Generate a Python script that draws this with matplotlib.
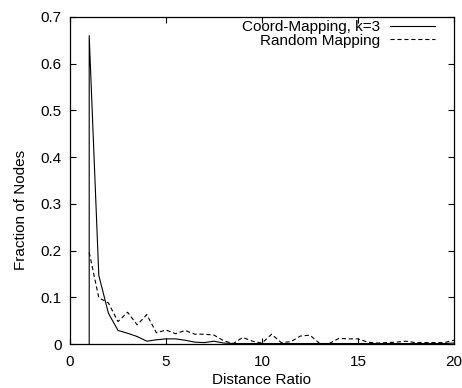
import matplotlib
matplotlib.use("Agg")
import matplotlib.pyplot as plt

plt.rcParams['font.family'] = ['Liberation Sans', 'DejaVu Sans']
plt.rcParams['lines.scale_dashes'] = False

# distance ratio bins (solid series starts with a drop line at x=1)
coord_x = [1, 1, 1.5, 2, 2.5, 3, 3.5, 4, 4.5, 5, 5.5, 6, 6.5, 7, 7.5, 8, 8.5, 9, 9.5,
           10, 10.5, 11, 11.5, 12, 12.5, 13, 13.5, 14, 14.5, 15, 15.5, 16, 16.5, 17,
           17.5, 18, 18.5, 19, 19.5, 20]
coord_y = [0, 0.66, 0.147, 0.066, 0.029, 0.023, 0.016, 0.006, 0.009, 0.011, 0.011, 0.008,
           0.004, 0.003, 0.006, 0.002, 0.001, 0.001, 0.001, 0.001, 0.001, 0.001, 0.001,
           0.001, 0.001, 0.001, 0.001, 0.001, 0.001, 0.001, 0.001, 0.001, 0.001, 0.001,
           0.001, 0.001, 0.001, 0.001, 0.001, 0.002]

rand_x = [1, 1.5, 2, 2.5, 3, 3.5, 4, 4.5, 5, 5.5, 6, 6.5, 7, 7.5, 8, 8.5, 9, 9.5,
          10, 10.5, 11, 11.5, 12, 12.5, 13, 13.5, 14, 14.5, 15, 15.5, 16, 16.5, 17,
          17.5, 18, 18.5, 19, 19.5, 20]
rand_y = [0.196, 0.099, 0.088, 0.048, 0.068, 0.041, 0.063, 0.024, 0.030, 0.022, 0.029,
          0.021, 0.021, 0.019, 0.007, 0.001, 0.014, 0.006, 0.002, 0.021, 0.003, 0.005,
          0.017, 0.019, 0.001, 0.001, 0.012, 0.011, 0.011, 0.004, 0.002, 0.003, 0.004,
          0.006, 0.003, 0.003, 0.003, 0.003, 0.008]

fs = 11

fig = plt.figure(figsize=(4.62, 3.88), dpi=100)
ax = fig.add_axes([70 / 462, 1 - 344 / 388, 384 / 462, 327 / 388])

ax.plot(coord_x, coord_y, color='black', lw=0.8, label='Coord-Mapping, k=3')
ax.plot(rand_x, rand_y, color='black', lw=0.8, dashes=(3, 2), label='Random Mapping')

ax.set_xlim(0, 20)
ax.set_ylim(0, 0.7)
ax.set_xticks([0, 5, 10, 15, 20])
ax.set_xticklabels(['0', '5', '10', '15', '20'])
ax.set_yticks([0, 0.1, 0.2, 0.3, 0.4, 0.5, 0.6, 0.7])
ax.set_yticklabels(['0', '0.1', '0.2', '0.3', '0.4', '0.5', '0.6', '0.7'])
ax.tick_params(direction='in', top=True, right=True, length=4, width=0.8,
               labelsize=fs)
ax.tick_params(axis='y', pad=6)
ax.tick_params(axis='x', pad=8)
for s in ax.spines.values():
    s.set_linewidth(0.9)

ax.set_xlabel('Distance Ratio', fontsize=fs)
ax.set_ylabel('Fraction of Nodes', fontsize=fs)
ax.xaxis.set_label_coords(0.5, -0.09)
ax.yaxis.set_label_coords(-0.11, 0.41)

ax.legend(loc='upper right', bbox_to_anchor=(0.95, 0.99), frameon=False,
          markerfirst=False, fontsize=fs, handlelength=2.95, handletextpad=0.65,
          labelspacing=-0.05, borderpad=0, borderaxespad=0)

fig.savefig('out.png', dpi=100)
